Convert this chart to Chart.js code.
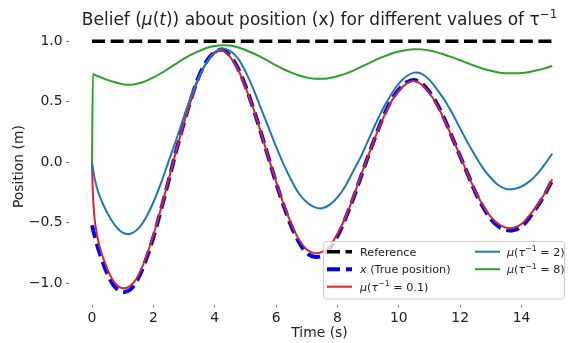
<!DOCTYPE html>
<html>
<head>
<meta charset="utf-8">
<script src="https://cdn.jsdelivr.net/npm/chart.js@4.4.0/dist/chart.umd.min.js"></script>
<style>
  html, body { margin: 0; padding: 0; background: #fff; }
  canvas { display: block; }
</style>
</head>
<body>
<canvas id="beliefChart" width="570" height="343"></canvas>
<script>
// time samples (s)
const timeS = [0, 0.03, 0.1, 0.25, 0.5, 0.75, 1, 1.25, 1.5, 1.75, 2, 2.25, 2.5, 2.75, 3, 3.25, 3.5, 3.75,
  4, 4.25, 4.5, 4.75, 5, 5.25, 5.5, 5.75, 6, 6.25, 6.5, 6.75, 7, 7.25, 7.5, 7.75, 8, 8.25, 8.5, 8.75,
  9, 9.25, 9.5, 9.75, 10, 10.25, 10.5, 10.75, 11, 11.25, 11.5, 11.75, 12, 12.25, 12.5, 12.75,
  13, 13.25, 13.5, 13.75, 14, 14.25, 14.5, 14.75, 15];

// x (true position)
const truePosition = [-0.52, -0.55, -0.62, -0.75, -0.92, -1.03, -1.07, -1.05, -0.96, -0.81, -0.62, -0.39, -0.15, 0.10, 0.33, 0.54, 0.72, 0.84,
  0.91, 0.93, 0.88, 0.78, 0.63, 0.45, 0.25, 0.04, -0.17, -0.36, -0.53, -0.66, -0.75, -0.78, -0.77, -0.71, -0.61, -0.47, -0.31, -0.13,
  0.05, 0.22, 0.38, 0.51, 0.60, 0.66, 0.68, 0.65, 0.58, 0.48, 0.35, 0.20, 0.05, -0.10, -0.25, -0.37,
  -0.47, -0.53, -0.56, -0.56, -0.53, -0.46, -0.37, -0.27, -0.15];

// beliefs mu for tau^-1 = 0.1, 2, 8
const muTau01 = [0, -0.27, -0.50, -0.70, -0.88, -1.00, -1.04, -1.02, -0.94, -0.79, -0.60, -0.38, -0.14, 0.10, 0.33, 0.53, 0.71, 0.83,
  0.90, 0.92, 0.87, 0.77, 0.62, 0.45, 0.25, 0.04, -0.16, -0.35, -0.51, -0.64, -0.72, -0.75, -0.74, -0.69, -0.59, -0.46, -0.30, -0.12,
  0.05, 0.22, 0.37, 0.50, 0.59, 0.65, 0.67, 0.64, 0.57, 0.47, 0.34, 0.20, 0.05, -0.10, -0.24, -0.36,
  -0.45, -0.51, -0.54, -0.54, -0.51, -0.44, -0.36, -0.26, -0.14];

const muTau2 = [0, -0.05, -0.15, -0.28, -0.42, -0.52, -0.58, -0.59, -0.55, -0.46, -0.33, -0.17, 0.01, 0.19, 0.38, 0.56, 0.71, 0.83,
  0.91, 0.94, 0.92, 0.86, 0.75, 0.61, 0.45, 0.29, 0.13, -0.02, -0.15, -0.26, -0.33, -0.37, -0.38, -0.35, -0.29, -0.20, -0.08, 0.04,
  0.18, 0.32, 0.45, 0.56, 0.65, 0.71, 0.74, 0.73, 0.68, 0.60, 0.51, 0.40, 0.28, 0.16, 0.05, -0.05,
  -0.13, -0.19, -0.22, -0.22, -0.20, -0.16, -0.10, -0.02, 0.07];

const muTau8 = [0, 0.73, 0.72, 0.705, 0.68, 0.66, 0.645, 0.64, 0.65, 0.67, 0.70, 0.735, 0.775, 0.815, 0.855, 0.89, 0.92, 0.945,
  0.96, 0.967, 0.964, 0.95, 0.927, 0.90, 0.87, 0.835, 0.80, 0.768, 0.74, 0.716, 0.70, 0.69, 0.689, 0.696, 0.71, 0.73, 0.755, 0.785,
  0.815, 0.845, 0.872, 0.896, 0.914, 0.927, 0.934, 0.932, 0.922, 0.907, 0.888, 0.866, 0.842, 0.817, 0.794, 0.772,
  0.755, 0.742, 0.735, 0.734, 0.737, 0.746, 0.759, 0.775, 0.795];

// reference level
const refTime = [0, 15];
const refLevel = [1.0, 1.0];

const xTicks = [0, 2, 4, 6, 8, 10, 12, 14];
const yTicks = [-1.0, -0.5, 0.0, 0.5, 1.0];

const FONT = '"DejaVu Sans", sans-serif';
const TXT = '#222';

function pts(xs, ys) {
  return xs.map((x, i) => ({ x: x, y: ys[i] }));
}

// draws text made of runs (italic / superscript pieces), like matplotlib mathtext
function drawRich(ctx, runs, x, y, size, align) {
  const pieces = runs.map(r => {
    const s = r.sup ? size * 0.7 : size;
    const font = (r.it ? 'italic ' : '') + s + 'px ' + FONT;
    ctx.font = font;
    return { t: r.t, font: font, w: ctx.measureText(r.t).width, dy: r.sup ? -size * 0.4 : 0 };
  });
  const total = pieces.reduce((a, p) => a + p.w, 0);
  let cx = align === 'center' ? x - total / 2 : x;
  ctx.textAlign = 'left';
  ctx.textBaseline = 'alphabetic';
  pieces.forEach(p => {
    ctx.font = p.font;
    ctx.fillText(p.t, cx, y + p.dy);
    cx += p.w;
  });
}

const titleRuns = [
  { t: 'Belief (' }, { t: 'μ', it: true }, { t: '(' }, { t: 't', it: true },
  { t: ')) about position (x) for different values of ' }, { t: 'τ' }, { t: '−1', sup: true }
];

const legendRuns = [
  [{ t: 'Reference' }],
  [{ t: 'x', it: true }, { t: ' (True position)' }],
  [{ t: 'μ', it: true }, { t: '(' }, { t: 'τ', it: true }, { t: '−1', sup: true }, { t: ' = 0.1)' }],
  [{ t: 'μ', it: true }, { t: '(' }, { t: 'τ', it: true }, { t: '−1', sup: true }, { t: ' = 2)' }],
  [{ t: 'μ', it: true }, { t: '(' }, { t: 'τ', it: true }, { t: '−1', sup: true }, { t: ' = 8)' }]
];

const decorPlugin = {
  id: 'decor',
  afterDatasetsDraw(chart) {
    const ctx = chart.ctx;
    ctx.save();
    // legend box
    const bx = 323.5, by = 241.5, bw = 241, bh = 57.5, r = 3;
    ctx.beginPath();
    ctx.roundRect(bx, by, bw, bh, r);
    ctx.fillStyle = 'rgba(255,255,255,0.8)';
    ctx.fill();
    ctx.strokeStyle = '#cccccc';
    ctx.lineWidth = 1;
    ctx.stroke();

    const slots = [
      { hx: 327, tx: 360, y: 251.7 },
      { hx: 327, tx: 360, y: 269.2 },
      { hx: 327, tx: 360, y: 286.7 },
      { hx: 475, tx: 507, y: 251.7 },
      { hx: 475, tx: 507, y: 269.2 }
    ];
    chart.data.datasets.forEach((ds, i) => {
      const s = slots[i];
      ctx.beginPath();
      ctx.setLineDash(ds.borderDash || []);
      ctx.lineCap = 'butt';
      ctx.strokeStyle = ds.borderColor;
      ctx.lineWidth = ds.borderWidth;
      ctx.moveTo(s.hx, s.y);
      ctx.lineTo(s.hx + 25, s.y);
      ctx.stroke();
      ctx.setLineDash([]);
      ctx.fillStyle = TXT;
      drawRich(ctx, legendRuns[i], s.tx, s.y + 4, 11.2, 'left');
    });
    ctx.restore();
  },
  afterDraw(chart) {
    const ctx = chart.ctx;
    ctx.save();
    ctx.fillStyle = TXT;
    drawRich(ctx, titleRuns, 319.5, 24.7, 17, 'center');
    ctx.restore();
  }
};

const ctx = document.getElementById('beliefChart').getContext('2d');

new Chart(ctx, {
  type: 'line',
  data: {
    datasets: [
      { label: 'Reference', data: pts(refTime, refLevel), borderColor: '#000000', borderWidth: 3.5, borderDash: [13, 5.6], order: 5 },
      { label: 'x (True position)', data: pts(timeS, truePosition), borderColor: '#0000ff', borderWidth: 4, borderDash: [13, 6], order: 4, tension: 0.35 },
      { label: 'mu 0.1', data: pts(timeS, muTau01), borderColor: '#d62728', borderWidth: 2, order: 3, tension: 0.35 },
      { label: 'mu 2', data: pts(timeS, muTau2), borderColor: '#1f77b4', borderWidth: 2, order: 2, tension: 0.35 },
      { label: 'mu 8', data: pts(timeS, muTau8), borderColor: '#2ca02c', borderWidth: 2, order: 1, cubicInterpolationMode: 'monotone' }
    ]
  },
  options: {
    responsive: false,
    animation: false,
    devicePixelRatio: 1,
    layout: { padding: { top: 28.6, left: 0, right: 0, bottom: 0 } },
    elements: {
      point: { radius: 0 },
      line: { fill: false, borderCapStyle: 'butt' }
    },
    plugins: {
      legend: { display: false },
      title: { display: false },
      tooltip: { enabled: false }
    },
    scales: {
      x: {
        type: 'linear',
        min: -0.75,
        max: 15.58,
        afterBuildTicks: s => { s.ticks = xTicks.map(v => ({ value: v })); },
        afterFit: s => { s.height = 38.4; },
        grid: { display: true, drawOnChartArea: false, drawTicks: true, tickLength: 3, color: '#555', lineWidth: 0.8 },
        border: { display: false },
        ticks: { font: { family: FONT, size: 13.9 }, color: TXT, padding: 2, maxRotation: 0, callback: v => String(v) },
        title: { display: true, text: 'Time (s)', font: { family: FONT, size: 13.9 }, color: TXT, padding: { top: 0, bottom: 1.5 } }
      },
      y: {
        type: 'linear',
        min: -1.175,
        max: 1.1035,
        afterBuildTicks: s => { s.ticks = yTicks.map(v => ({ value: v })); },
        afterFit: s => { s.width = 69; },
        grid: { display: true, drawOnChartArea: false, drawTicks: true, tickLength: 3, color: '#555', lineWidth: 0.8 },
        border: { display: false },
        ticks: { font: { family: FONT, size: 13.9 }, color: TXT, padding: 3.5, callback: v => v.toFixed(1).replace('-', '−') },
        title: { display: true, text: 'Position (m)', font: { family: FONT, size: 13.9 }, color: TXT, padding: { top: 10.7, bottom: 0 } }
      }
    }
  },
  plugins: [decorPlugin]
});
</script>
</body>
</html>
